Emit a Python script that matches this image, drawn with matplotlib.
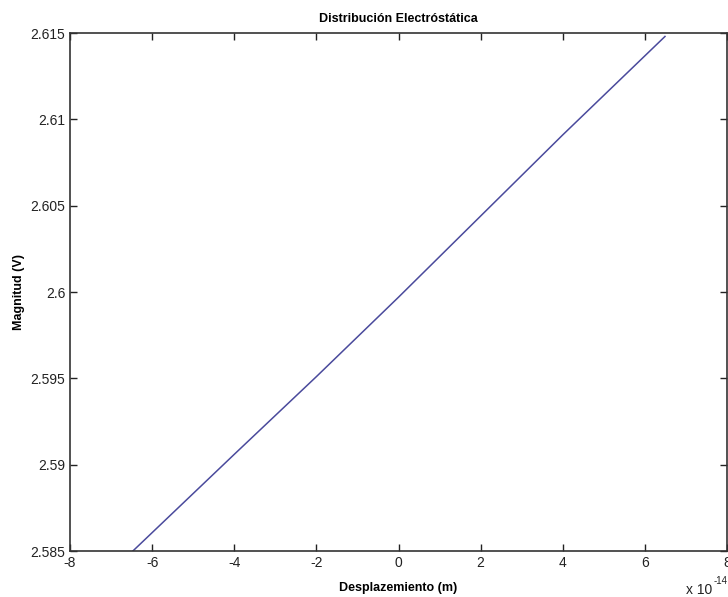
import matplotlib; matplotlib.use("Agg")
import matplotlib.pyplot as plt
from matplotlib.ticker import FuncFormatter

# displacement in units of 1e-14 m, voltage in V
desplazamiento = [-6.47, -4.0, -2.0, 0.0, 2.0, 4.0, 6.49]
magnitud = [2.5850, 2.5906, 2.5951, 2.5997, 2.6044, 2.6091, 2.6148]
xticks = [-8, -6, -4, -2, 0, 2, 4, 6, 8]
yticks = [2.585, 2.59, 2.595, 2.6, 2.605, 2.61, 2.615]

plt.rcParams.update({"font.family": ["Liberation Sans", "DejaVu Sans"],
                     "axes.unicode_minus": False})
fig = plt.figure(figsize=(7.28, 5.97), dpi=100)
ax = fig.add_axes([0.0962, 0.077, 0.9024, 0.8677])
ax.plot(desplazamiento, magnitud, color="#4a4a9c", lw=1.1)
ax.set_xlim(-8, 8); ax.set_ylim(2.585, 2.615)
ax.set_xticks(xticks); ax.set_yticks(yticks)
ax.xaxis.set_major_formatter(FuncFormatter(lambda v, p: f"{v:g}"))
ax.yaxis.set_major_formatter(FuncFormatter(lambda v, p: f"{v:g}"))
ax.tick_params(direction="in", length=5, width=1, top=True, right=True,
               labelsize=10, colors="#222")
for s in ax.spines.values():
    s.set_color("#333"); s.set_linewidth(1.2)
ax.set_title("Distribución Electróstática", fontsize=9, fontweight="bold", pad=8)
ax.set_xlabel("Desplazemiento (m)", fontsize=9, fontweight="bold", labelpad=9)
ax.set_ylabel("Magnitud (V)", fontsize=9, fontweight="bold", labelpad=4)
# x 10^-14 multiplier, MATLAB style
fig.text(0.979, 0.0, "x 10", fontsize=10, ha="right", va="bottom", color="#222")
fig.text(0.980, 0.018, "-14", fontsize=7, ha="left", va="bottom", color="#222")
fig.savefig("out.png", dpi=100, facecolor="white")
